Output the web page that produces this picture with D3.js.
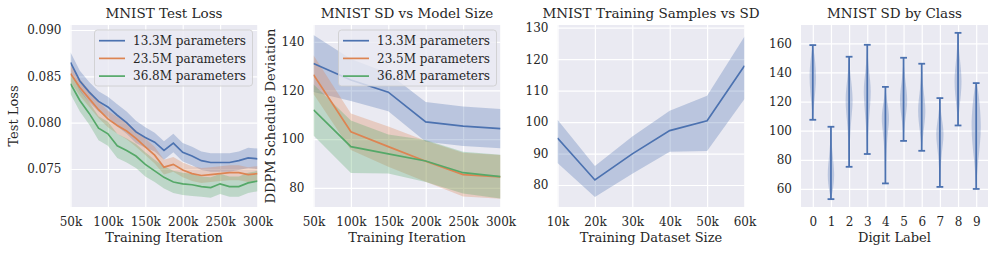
<!DOCTYPE html>
<html><head><meta charset="utf-8">
<script src="https://cdn.jsdelivr.net/npm/d3@7"></script>
<style>
body{margin:0;background:#fff}
text{font-family:"DejaVu Serif",serif;fill:#262626}
</style>
</head><body>
<svg id="c" width="996" height="255"></svg>
<script>
// ---------- DATA ----------
const seriesNames = ["13.3M parameters", "23.5M parameters", "36.8M parameters"];
const colors = ["#4C72B0", "#DD8452", "#55A868"];

// Panel 1: MNIST Test Loss
const lossIters = [50, 62.5, 75, 87.5, 100, 112.5, 125, 137.5, 150, 162.5, 175, 187.5, 200, 212.5, 225, 237.5, 250, 262.5, 275, 287.5, 300];
const loss13 = [0.0865, 0.0845, 0.0833, 0.0823, 0.0817, 0.0808, 0.0800, 0.0790, 0.0784, 0.0779, 0.0770, 0.0778, 0.0768, 0.0764, 0.0759, 0.0757, 0.0757, 0.0757, 0.0759, 0.0762, 0.0761];
const loss23 = [0.0853, 0.0838, 0.0826, 0.0814, 0.0804, 0.0797, 0.0791, 0.0783, 0.0774, 0.0765, 0.0752, 0.0755, 0.0749, 0.0745, 0.0743, 0.0744, 0.0745, 0.0746, 0.0746, 0.0744, 0.0745];
const loss36 = [0.0842, 0.0824, 0.0810, 0.0794, 0.0788, 0.0775, 0.0770, 0.0764, 0.0755, 0.0748, 0.0741, 0.0736, 0.0734, 0.0733, 0.0731, 0.0730, 0.0734, 0.0731, 0.0731, 0.0735, 0.0737];
const lossErr13 = [0.0011, 0.0011, 0.0011, 0.0011, 0.0011, 0.0012, 0.0012, 0.0012, 0.0011, 0.0010, 0.0010, 0.0010, 0.0010, 0.0010, 0.0010, 0.0010, 0.0010, 0.0010, 0.0010, 0.0011, 0.0011];
const lossErr23 = [0.0009, 0.0009, 0.0009, 0.0009, 0.0009, 0.0009, 0.0009, 0.0009, 0.0009, 0.0009, 0.0008, 0.0008, 0.0008, 0.0008, 0.0008, 0.0008, 0.0008, 0.0008, 0.0008, 0.0008, 0.0008];
const lossErr36 = [0.0011, 0.0012, 0.0012, 0.0013, 0.0013, 0.0013, 0.0013, 0.0013, 0.0013, 0.0012, 0.0012, 0.0012, 0.0012, 0.0012, 0.0011, 0.0011, 0.0011, 0.0011, 0.0011, 0.0011, 0.0011];
const lossTicksY = [0.075, 0.080, 0.085, 0.090];
const iterTicks = [50, 100, 150, 200, 250, 300];

// Panel 2: MNIST SD vs Model Size
const sdIters = [50, 100, 150, 200, 250, 300];
const sd13 = [131.1, 124.3, 119.3, 107.1, 105.3, 104.3];
const sd23 = [126.5, 103.0, 96.9, 90.9, 85.4, 84.5];
const sd36 = [112.0, 96.9, 93.9, 91.0, 86.2, 84.6];
const sdErr13 = [11.7, 8.6, 7.8, 8.2, 8.1, 8.1];
const sdErr23 = [8.0, 7.5, 8.3, 8.4, 9.0, 9.0];
const sdErr36 = [10.5, 10.8, 8.0, 8.6, 8.6, 9.0];
const sdTicksY = [80, 100, 120, 140];

// Panel 3: MNIST Training Samples vs SD
const dataSizes = [10, 20, 30, 40, 50, 60];
const sampleSD = [94.9, 81.6, 89.9, 97.3, 100.4, 117.9];
const sampleLo = [87.0, 76.2, 83.6, 90.6, 90.8, 107.3];
const sampleHi = [100.7, 86.0, 95.4, 103.6, 108.4, 127.2];
const sampleTicksY = [80, 90, 100, 110, 120, 130];

// Panel 4: MNIST SD by Class (violins)
const digits = [0, 1, 2, 3, 4, 5, 6, 7, 8, 9];
const classMin = [107.5, 53.0, 75.2, 84.0, 63.8, 93.0, 86.2, 61.4, 103.6, 60.0];
const classMax = [158.8, 102.7, 150.8, 159.0, 130.1, 150.1, 146.0, 122.4, 167.2, 132.7];
const classBodyLo = [118.8, 56.5, 105.0, 107.3, 95.8, 107.3, 98.1, 84.4, 116.4, 79.8];
const classBodyHi = [154.2, 84.4, 137.0, 141.6, 121.0, 134.8, 128.0, 109.6, 150.8, 130.2];
const classMode = [137.0, 69.5, 121.0, 128.0, 108.5, 121.0, 114.0, 97.5, 134.0, 102.0];
const classDensity = [0.23, 0.23, 0.25, 0.25, 0.26, 0.26, 0.26, 0.26, 0.25, 0.33];
const classTicksY = [60, 80, 100, 120, 140, 160];

// ---------- DRAW ----------
const svg = d3.select("#c");
const BG = "#EAEAF2";
const TOP = 25, BOTTOM = 207;
const tickFont = 12, labelFont = 13, titleFont = 13.5, legendFont = 12;

function panel(cfg) {
  const g = svg.append("g");
  const x = cfg.x, y = cfg.y;
  g.append("rect").attr("x", cfg.left).attr("y", TOP)
    .attr("width", cfg.right - cfg.left).attr("height", BOTTOM - TOP).attr("fill", BG);
  const xa = d3.axisBottom(x).tickValues(cfg.xTicks).tickSize(-(BOTTOM - TOP)).tickFormat(cfg.xFmt).tickPadding(10);
  const ya = d3.axisLeft(y).tickValues(cfg.yTicks).tickSize(-(cfg.right - cfg.left)).tickFormat(cfg.yFmt).tickPadding(cfg.yPad || 9);
  const gx = g.append("g").attr("transform", `translate(0,${BOTTOM})`).call(xa);
  const gy = g.append("g").attr("transform", `translate(${cfg.left},0)`).call(ya);
  [gx, gy].forEach(a => {
    a.select(".domain").remove();
    a.selectAll(".tick line").attr("stroke", "#fff").attr("stroke-width", 1.2);
    a.selectAll(".tick text").attr("font-size", tickFont).attr("fill", "#262626")
      .style("font-family", '"DejaVu Serif", serif');
  });
  gx.selectAll(".tick text").attr("dy", "0.71em").attr("y", 10);
  g.append("text").attr("x", (cfg.left + cfg.right) / 2).attr("y", 18)
    .attr("text-anchor", "middle").attr("font-size", titleFont).text(cfg.title);
  g.append("text").attr("x", (cfg.left + cfg.right) / 2).attr("y", 242)
    .attr("text-anchor", "middle").attr("font-size", labelFont).text(cfg.xLabel);
  if (cfg.yLabel) {
    g.append("text").attr("transform", `translate(${cfg.yLabelX},${(TOP + BOTTOM) / 2}) rotate(-90)`)
      .attr("text-anchor", "middle").attr("font-size", labelFont).text(cfg.yLabel);
  }
  const clipId = "clip" + cfg.id;
  svg.append("clipPath").attr("id", clipId).append("rect")
    .attr("x", cfg.left).attr("y", TOP).attr("width", cfg.right - cfg.left).attr("height", BOTTOM - TOP);
  const plot = g.append("g").attr("clip-path", `url(#${clipId})`);
  return {g, plot};
}

function bandsAndLines(plot, x, y, xs, ys, errs, alpha) {
  ys.forEach((vals, i) => {
    const d = xs.map((xv, j) => ({x: xv, v: vals[j], e: errs[i][j]}));
    plot.append("path").datum(d)
      .attr("d", d3.area().x(p => x(p.x)).y0(p => y(p.v - p.e)).y1(p => y(p.v + p.e)))
      .attr("fill", colors[i]).attr("fill-opacity", alpha).attr("stroke", "none");
  });
  ys.forEach((vals, i) => {
    const d = xs.map((xv, j) => ({x: xv, v: vals[j]}));
    plot.append("path").datum(d)
      .attr("d", d3.line().x(p => x(p.x)).y(p => y(p.v)))
      .attr("fill", "none").attr("stroke", colors[i]).attr("stroke-width", 1.7);
  });
}

function legend(g, lx, ly, w, h) {
  g.append("rect").attr("x", lx).attr("y", ly).attr("width", w).attr("height", h)
    .attr("rx", 3).attr("fill", BG).attr("fill-opacity", 0.8).attr("stroke", "#cccccc").attr("stroke-width", 0.8);
  seriesNames.forEach((n, i) => {
    const yy = ly + 10.7 + i * 17.7;
    g.append("line").attr("x1", lx + 4.5).attr("x2", lx + 30.5).attr("y1", yy).attr("y2", yy)
      .attr("stroke", colors[i]).attr("stroke-width", 1.7);
    g.append("text").attr("x", lx + 38.5).attr("y", yy).attr("dy", "0.36em")
      .attr("font-size", legendFont).text(n);
  });
}

// Panel 1
{
  const left = 70.5, right = 257.5;
  const x = d3.scaleLinear().domain([50, 300]).range([left, right]);
  const y = d3.scaleLinear().domain([0.0709, 0.09054]).range([BOTTOM, TOP]);
  const {g, plot} = panel({id: 1, left, right, x, y, xTicks: iterTicks, yTicks: lossTicksY,
    xFmt: d => d + "k", yFmt: d3.format(".3f"), title: "MNIST Test Loss",
    xLabel: "Training Iteration", yLabel: "Test Loss", yLabelX: 18});
  bandsAndLines(plot, x, y, lossIters, [loss13, loss23, loss36], [lossErr13, lossErr23, lossErr36], 0.3);
  legend(g, 94.5, 30, 158, 56);
}
// Panel 2
{
  const left = 313.5, right = 500.5;
  const x = d3.scaleLinear().domain([50, 300]).range([left, right]);
  const y = d3.scaleLinear().domain([72.1, 146.9]).range([BOTTOM, TOP]);
  const {g, plot} = panel({id: 2, left, right, x, y, xTicks: iterTicks, yTicks: sdTicksY,
    xFmt: d => d + "k", yFmt: d3.format("d"), title: "MNIST SD vs Model Size",
    xLabel: "Training Iteration", yLabel: "DDPM Schedule Deviation", yLabelX: 275});
  bandsAndLines(plot, x, y, sdIters, [sd13, sd23, sd36], [sdErr13, sdErr23, sdErr36], 0.3);
  legend(g, 338.5, 30, 158, 56);
}
// Panel 3
{
  const left = 557.5, right = 744.5;
  const x = d3.scaleLinear().domain([10, 60]).range([left, right]);
  const y = d3.scaleLinear().domain([73.0, 130.86]).range([BOTTOM, TOP]);
  const {g, plot} = panel({id: 3, left, right, x, y, xTicks: dataSizes, yTicks: sampleTicksY,
    xFmt: d => d + "k", yFmt: d3.format("d"), title: "MNIST Training Samples vs SD",
    xLabel: "Training Dataset Size"});
  const d = dataSizes.map((s, j) => ({x: s, v: sampleSD[j], lo: sampleLo[j], hi: sampleHi[j]}));
  plot.append("path").datum(d)
    .attr("d", d3.area().x(p => x(p.x)).y0(p => y(p.lo)).y1(p => y(p.hi)))
    .attr("fill", colors[0]).attr("fill-opacity", 0.3);
  plot.append("path").datum(d)
    .attr("d", d3.line().x(p => x(p.x)).y(p => y(p.v)))
    .attr("fill", "none").attr("stroke", colors[0]).attr("stroke-width", 1.7);
}
// Panel 4
{
  const left = 801, right = 988;
  const x = d3.scaleLinear().domain([-0.65, 9.65]).range([left, right]);
  const y = d3.scaleLinear().domain([47.6, 172.6]).range([BOTTOM, TOP]);
  const {g, plot} = panel({id: 4, left, right, x, y, xTicks: digits, yTicks: classTicksY,
    xFmt: d3.format("d"), yFmt: d3.format("d"), title: "MNIST SD by Class",
    xLabel: "Digit Label"});
  const unit = x(1) - x(0);
  digits.forEach((dg, i) => {
    const w = classDensity[i];
    const prof = [
      {v: classMin[i], w: 0},
      {v: classBodyLo[i], w: w * 0.3},
      {v: classMode[i], w: w},
      {v: classBodyHi[i], w: w * 0.3},
      {v: classMax[i], w: 0}
    ];
    plot.append("path").datum(prof)
      .attr("d", d3.area().curve(d3.curveBasis)
        .y(p => y(p.v)).x0(p => x(dg) - p.w * unit).x1(p => x(dg) + p.w * unit))
      .attr("fill", colors[0]).attr("fill-opacity", 0.3);
    const cx = x(dg);
    plot.append("line").attr("x1", cx).attr("x2", cx).attr("y1", y(classMin[i])).attr("y2", y(classMax[i]))
      .attr("stroke", colors[0]).attr("stroke-width", 1.8);
    [classMin[i], classMax[i]].forEach(v => {
      plot.append("line").attr("x1", cx - 3.4).attr("x2", cx + 3.4).attr("y1", y(v)).attr("y2", y(v))
        .attr("stroke", colors[0]).attr("stroke-width", 1.8);
    });
  });
}
</script>
</body></html>
